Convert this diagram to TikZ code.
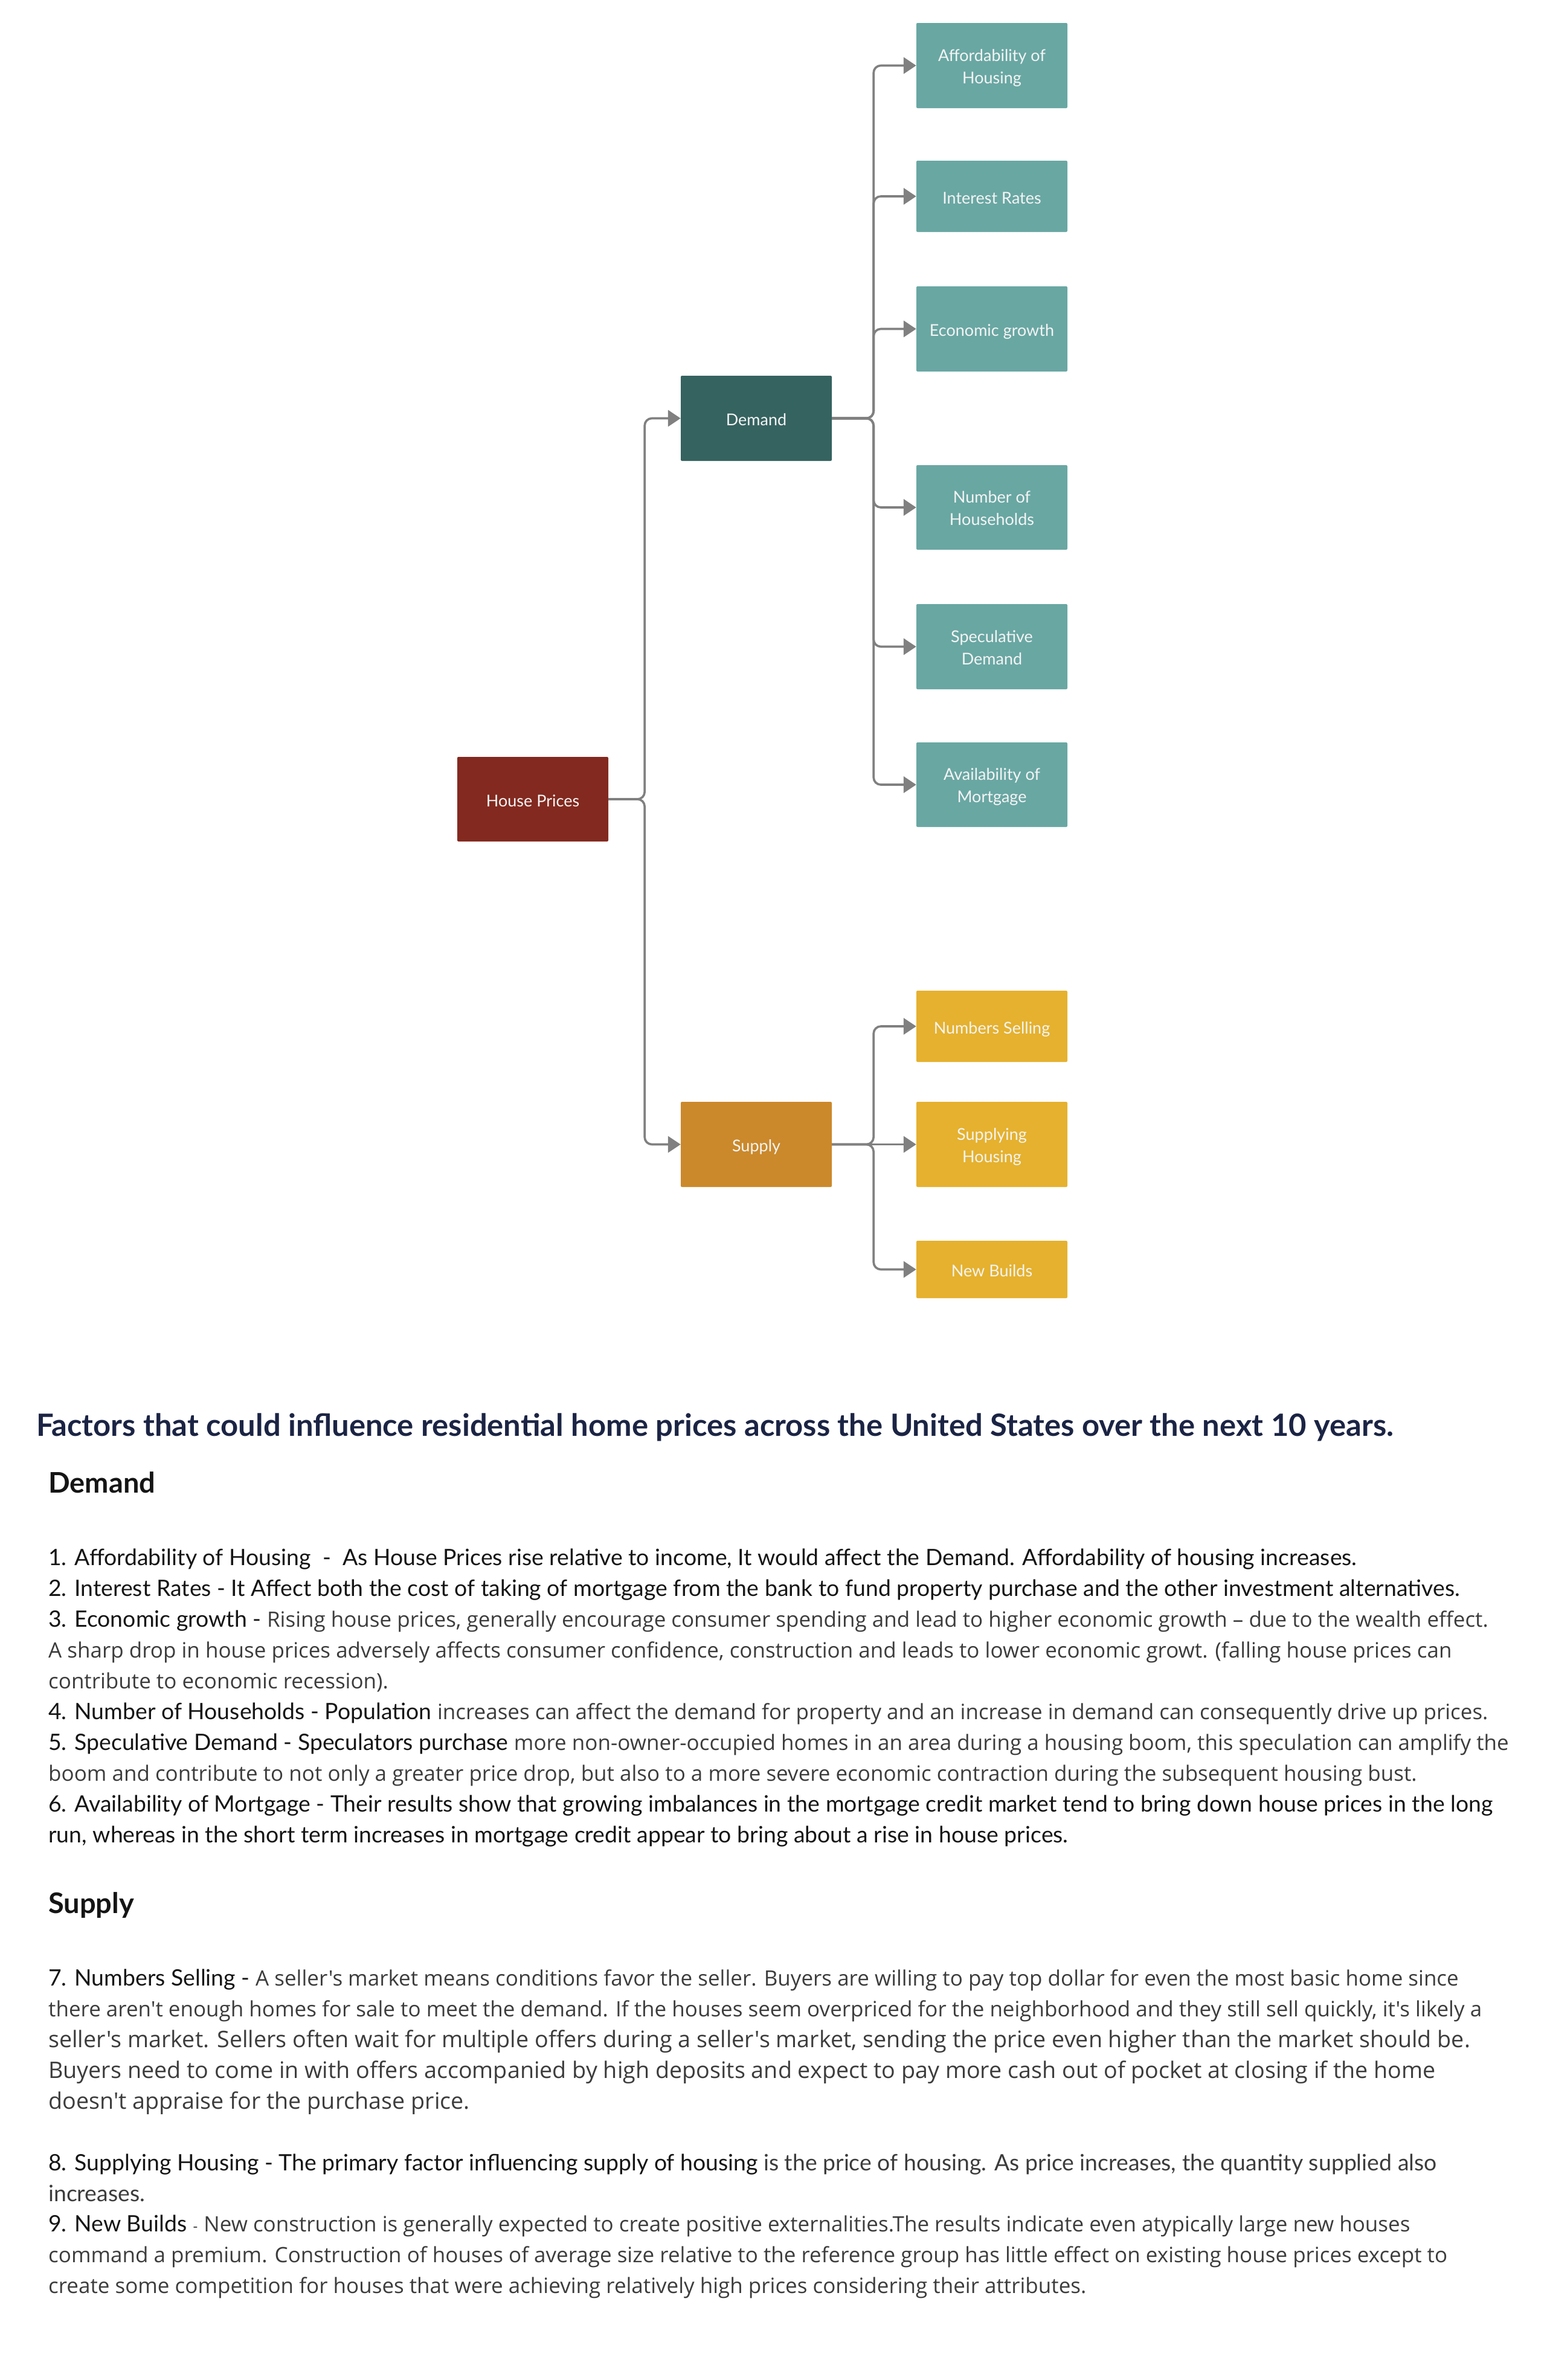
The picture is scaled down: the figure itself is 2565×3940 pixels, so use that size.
\documentclass[tikz,border=0pt]{standalone}
\usepackage{fontspec}
\setmainfont{Lato}[Ligatures=TeXOff]
\newfontfamily\osans{Open Sans}[Ligatures=TeXOff]
\usetikzlibrary{arrows.meta}
\definecolor{tealA}{HTML}{69A7A3}
\definecolor{tealB}{HTML}{356360}
\definecolor{hred}{HTML}{83291F}
\definecolor{sorange}{HTML}{CB892B}
\definecolor{syellow}{HTML}{E5B12E}
\definecolor{conncol}{HTML}{808080}
\definecolor{navy}{HTML}{1B2444}
\definecolor{lbl}{HTML}{151515}
\definecolor{desc}{HTML}{3C3C3C}
\definecolor{boxtxt}{HTML}{F4F4F4}
\newcommand\dsc[1]{{\color{desc}\osans\fontsize{35}{51}\selectfont #1}}
\newcommand\dsb[1]{{\color{desc}\osans\fontsize{37.7}{51}\selectfont #1}}
\newcommand\dsl[1]{{\color{desc}#1}}
\begin{document}
\begin{tikzpicture}[x=1pt,y=-1pt,
  box/.style={rectangle, rounded corners=2pt, minimum width=250pt, text=boxtxt, align=center,
    font=\fontsize{27}{37}\selectfont, inner sep=0pt},
  one/.style={box, text height=24pt, text depth=0pt},
  two/.style={box, text height=64pt, text depth=5pt},
  conn/.style={draw=conncol, line width=3.6pt, rounded corners=12pt,
    -{Triangle[length=21pt,width=27pt]}},
  ln/.style={anchor=base west, inner sep=0pt, font=\fontsize{37.4}{51}\selectfont, text=lbl},
  head/.style={anchor=base west, inner sep=0pt, font=\bfseries\fontsize{47}{56}\selectfont, text=lbl},
]
\fill[white] (0,0) rectangle (2565,3940);
\useasboundingbox (0,0) rectangle (2565,3940);

% ---- boxes ----
\node[one, fill=hred, minimum height=140pt] (hp) at (882,1323) {House Prices};
\node[one, fill=tealB, minimum height=141pt] (dem) at (1252,692.5) {Demand};
\node[one, fill=sorange, minimum height=141pt] (sup) at (1252,1894.5) {Supply};

\node[two, fill=tealA, minimum height=141pt] (aff) at (1642,108.5) {Affordability of\\Housing};
\node[one, fill=tealA, minimum height=118pt] (int) at (1642,325) {Interest Rates};
\node[one, fill=tealA, minimum height=141pt] (eco) at (1642,544.5) {Economic growth};
\node[two, fill=tealA, minimum height=140pt] (noh) at (1642,840) {Number of\\Households};
\node[two, fill=tealA, minimum height=141pt] (spd) at (1642,1070.5) {Speculative\\Demand};
\node[two, fill=tealA, minimum height=140pt] (avm) at (1642,1299) {Availability of\\Mortgage};

\node[one, fill=syellow, minimum height=118pt] (nsel) at (1642,1699) {Numbers Selling};
\node[two, fill=syellow, minimum height=141pt] (shou) at (1642,1894.5) {Supplying\\Housing};
\node[one, fill=syellow, minimum height=95pt] (nb) at (1642,2101.5) {New Builds};

% ---- connectors ----
\draw[conn] (hp.east) -- ++(60,0) |- (dem.west);
\draw[conn] (hp.east) -- ++(60,0) |- (sup.west);
\foreach \c in {aff,int,eco,noh,spd,avm}
  \draw[conn] (dem.east) -- ++(69,0) |- (\c.west);
\draw[conn] (sup.east) -- ++(69,0) |- (nsel.west);
\draw[conn] (sup.east) -- (shou.west);
\draw[conn] (sup.east) -- ++(69,0) |- (nb.west);

% ---- text ----
\node[anchor=base west, inner sep=0pt, text=navy, font=\bfseries\fontsize{50.8}{60}\selectfont] (title) at (60,2377)
  {Factors that could influence residential home prices across the United States over the next 10 years.};
\node[head] (hdem) at (80,2471) {Demand};

\node[ln] (t1) at (80,2591) {1. Affordability of Housing\ \ -\ \ As House Prices rise relative to income, It would affect the Demand. Affordability of housing increases.};
\node[ln] (t2) at (80,2642) {2. Interest Rates - It Affect both the cost of taking of mortgage from the bank to fund property purchase and the other investment alternatives.};
\node[ln] (t3) at (80,2693) {3. Economic growth - \dsc{Rising house prices, generally encourage consumer spending and lead to higher economic growth – due to the wealth effect.}};
\node[ln] (t4) at (80,2744) {\dsc{A sharp drop in house prices adversely affects consumer confidence, construction and leads to lower economic growt. (falling house prices can}};
\node[ln] (t5) at (80,2795) {\dsc{contribute to economic recession).}};
\node[ln] (t6) at (80,2846) {4. Number of Households - Population \dsc{increases can affect the demand for property and an increase in demand can consequently drive up prices.}};
\node[ln] (t7) at (80,2897) {5. Speculative Demand - Speculators purchase \dsc{more non-owner-occupied homes in an area during a housing boom, this speculation can amplify the}};
\node[ln] (t8) at (80,2948) {\dsc{boom and contribute to not only a greater price drop, but also to a more severe economic contraction during the subsequent housing bust.}};
\node[ln] (t9) at (80,2999) {6. Availability of Mortgage - Their results show that growing imbalances in the mortgage credit market tend to bring down house prices in the long};
\node[ln] (t10) at (80,3050) {run, whereas in the short term increases in mortgage credit appear to bring about a rise in house prices.};

\node[head] (hsup) at (80,3167) {Supply};

\node[ln] (s1) at (80,3287) {7. Numbers Selling - \dsc{A seller's market means conditions favor the seller. Buyers are willing to pay top dollar for even the most basic home since}};
\node[ln] (s2) at (80,3338) {\dsc{there aren't enough homes for sale to meet the demand. If the houses seem overpriced for the neighborhood and they still sell quickly, it's likely a}};
\node[ln] (s3) at (80,3389) {\dsb{seller's market. Sellers often wait for multiple offers during a seller's market, sending the price even higher than the market should be.}};
\node[ln] (s4) at (80,3440) {\dsb{Buyers need to come in with offers accompanied by high deposits and expect to pay more cash out of pocket at closing if the home}};
\node[ln] (s5) at (80,3491) {\dsb{doesn't appraise for the purchase price.}};
\node[ln] (s6) at (80,3593) {8. Supplying Housing - The primary factor influencing supply of housing \dsl{is the price of housing. As price increases, the quantity supplied also}};
\node[ln] (s7) at (80,3644) {\dsl{increases.}};
\node[ln] (s8) at (80,3694) {9. New Builds {\color{desc}\fontsize{23.5}{30}\selectfont -} \dsc{New construction is generally expected to create positive externalities.The results indicate even atypically large new houses}};
\node[ln] (s9) at (80,3745) {\dsc{command a premium. Construction of houses of average size relative to the reference group has little effect on existing house prices except to}};
\node[ln] (s10) at (80,3796) {\dsc{create some competition for houses that were achieving relatively high prices considering their attributes.}};
\end{tikzpicture}
\end{document}
